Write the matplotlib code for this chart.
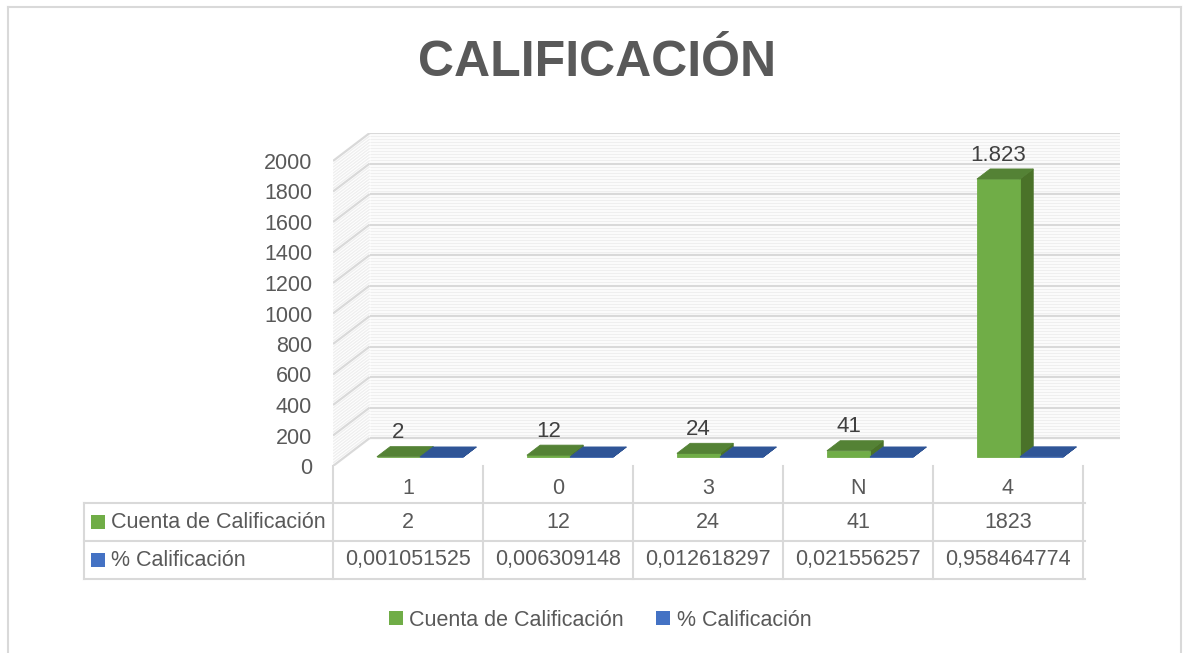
import matplotlib
matplotlib.use("Agg")
import matplotlib.pyplot as plt
from matplotlib.patches import Polygon, Patch
from matplotlib.lines import Line2D
from matplotlib.transforms import blended_transform_factory

# datos
categorias = ["1", "0", "3", "N", "4"]
cuenta = [2, 12, 24, 41, 1823]
porcentaje = [0.001051525, 0.006309148, 0.012618297, 0.021556257, 0.958464774]
pct_txt = ["0,001051525", "0,006309148", "0,012618297", "0,021556257", "0,958464774"]
series = ["Cuenta de Calificación", "% Calificación"]
y_ticks = list(range(0, 2001, 200))

W, H = 1183, 653
plt.rcParams['font.family'] = ['Liberation Sans', 'DejaVu Sans']
TXT = '#595959'
GRID = '#D9D9D9'
MINOR = '#EFEFEF'
FS = 15.5

fig = plt.figure(figsize=(W / 100, H / 100), dpi=100)

def fx(px):
    return px / W

def fy(py):
    return 1 - py / H

# 3d depth offset (data units) of the back wall
DX = 0.245
DY = 183.6
PX_PER_CAT = 150
PX_PER_VAL = 0.1525

ax = fig.add_axes([fx(333), fy(466), (5 + DX) * PX_PER_CAT / W, (2000 + DY) * PX_PER_VAL / H])
ax.set_xlim(-0.5, 4.5 + DX)
ax.set_ylim(0, 2000 + DY)
for s in ax.spines.values():
    s.set_visible(False)
ax.set_xticks([])
ax.set_yticks(y_ticks)
ax.tick_params(axis='y', length=0, pad=15, labelsize=FS, labelcolor=TXT)
ax.patch.set_alpha(0)


def P(x, y, d):
    return (x + DX * d, y + DY * d)


# walls: minor then major gridlines
for v in range(0, 2001, 20):
    major = v % 200 == 0
    c = GRID if major else MINOR
    lw = 1.6 if major else 1.0
    z = 1 if major else 0.5
    x0, y0 = P(-0.5, v, 1)
    x1, y1 = P(4.5, v, 1)
    ax.plot([x0, x1], [y0, y1], color=c, lw=lw, zorder=z, solid_capstyle='butt')
    xa, ya = P(-0.5, v, 0)
    ax.plot([xa, x0], [ya, y0], color=c, lw=lw, zorder=z, solid_capstyle='butt')

# bars
D0, D1 = 0.32, 0.68
BW = 0.287
OFF = -0.207 - DX * D0
colores = [
    ('#70AD47', '#548235', '#4A7229'),
    ('#4472C4', '#2F5597', '#2A4D8C'),
]
for i in range(len(categorias)):
    for k, vals in enumerate([cuenta, porcentaje]):
        v = vals[i]
        x0 = i + OFF + k * BW
        x1 = x0 + BW
        fc, tc, sc = colores[k]
        front = [P(x0, 0, D0), P(x1, 0, D0), P(x1, v, D0), P(x0, v, D0)]
        top = [P(x0, v, D0), P(x1, v, D0), P(x1, v, D1), P(x0, v, D1)]
        side = [P(x1, 0, D0), P(x1, 0, D1), P(x1, v, D1), P(x1, v, D0)]
        for poly, col in [(side, sc), (front, fc), (top, tc)]:
            ax.add_patch(Polygon(poly, closed=True, facecolor=col, edgecolor=col,
                                 lw=0.6, zorder=3 + i))
    # value label (green series), centred over the front face
    v = cuenta[i]
    xl = i + OFF + BW / 2 + DX * D0
    ax.annotate(f"{v:,}".replace(",", "."), xy=(xl, v + DY * D1), xytext=(0, 10),
                textcoords='offset points', ha='center', va='center',
                fontsize=FS + 0.5, color='#404040', zorder=20)

# title
fig.text(fx(597), fy(63), "CALIFICACIÓN", ha='center', va='center',
         fontsize=36, fontweight='bold', color=TXT,
         family=['Liberation Sans Narrow', 'Liberation Sans', 'DejaVu Sans'])

# data table
bt = blended_transform_factory(ax.transData, fig.transFigure)
row_top, row1, row2, row3 = 466, 503, 541, 579
for k in range(6):
    fig.add_artist(Line2D([-0.5 + k, -0.5 + k], [fy(row_top), fy(row3)],
                          transform=bt, color=GRID, lw=1.5))
for py in (row1, row2, row3):
    fig.add_artist(Line2D([fx(84), fx(1085)], [fy(py), fy(py)],
                          transform=fig.transFigure, color=GRID, lw=1.5))
fig.add_artist(Line2D([fx(84), fx(84)], [fy(row1), fy(row3)],
                      transform=fig.transFigure, color=GRID, lw=1.5))

for i, cat in enumerate(categorias):
    fig.text(i, fy(488), cat, transform=bt, ha='center', va='center', fontsize=FS, color=TXT)
    fig.text(i, fy(522), str(cuenta[i]), transform=bt, ha='center', va='center', fontsize=FS, color=TXT)
    fig.text(i, fy(560), pct_txt[i], transform=bt, ha='center', va='center', fontsize=FS, color=TXT)

for name, py, col in [(series[0], 522, '#70AD47'), (series[1], 560, '#4472C4')]:
    fig.add_artist(Polygon([(fx(91), fy(py - 7)), (fx(105), fy(py - 7)),
                            (fx(105), fy(py + 7)), (fx(91), fy(py + 7))],
                           closed=True, transform=fig.transFigure, facecolor=col, edgecolor='none'))
    fig.text(fx(111), fy(py), name, ha='left', va='center', fontsize=FS, color=TXT)

# legend
handles = [Patch(facecolor='#70AD47', edgecolor='none'), Patch(facecolor='#4472C4', edgecolor='none')]
fig.legend(handles, series, loc='center', bbox_to_anchor=(fx(600), fy(620)), ncol=2,
           frameon=False, fontsize=FS, labelcolor=TXT, handlelength=0.65, handleheight=0.65,
           handletextpad=0.3, columnspacing=1.5)

# outer chart border
for xs, ys in [([8, 8], [7, 660]), ([8, 1181], [7, 7]), ([1181, 1181], [7, 660])]:
    fig.add_artist(Line2D([fx(x) for x in xs], [fy(y) for y in ys],
                          transform=fig.transFigure, color=GRID, lw=1.5))

fig.savefig("out.png", dpi=100)
